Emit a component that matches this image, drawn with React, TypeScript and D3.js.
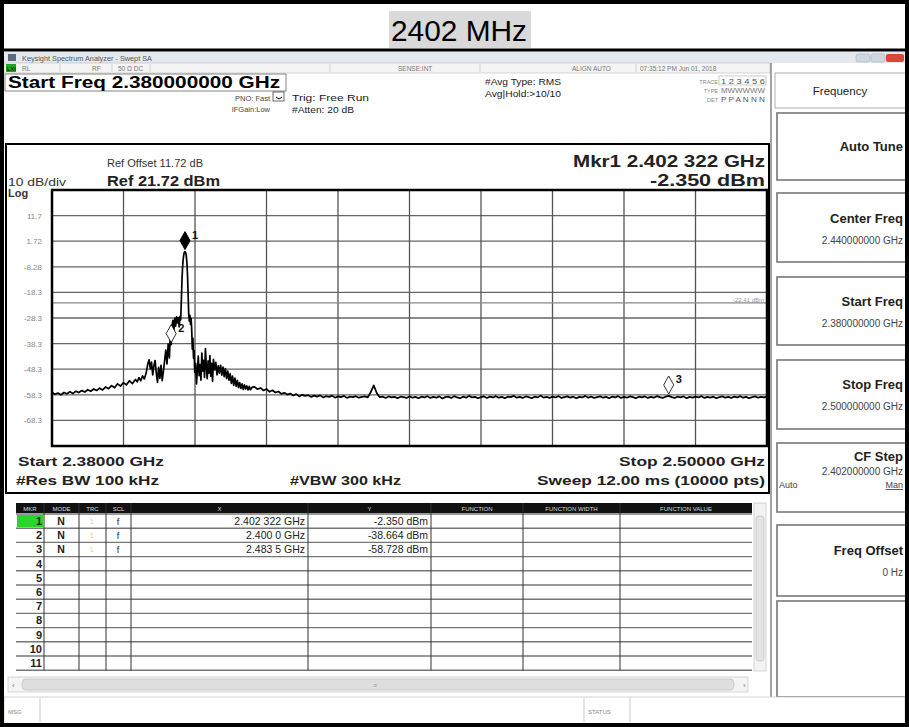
import * as d3 from 'd3';

// ── Data ──────────────────────────────────────────────────────────────────────
const F_START = 2380;
const F_STOP = 2500;
const REF_DBM = 21.72;
const DB_DIV = 10;

const Y_TICK_VALUES = [11.72, 1.72, -8.28, -18.28, -28.28, -38.28, -48.28, -58.28, -68.28];
const Y_TICK_LABELS = ['11.7', '1.72', '-8.28', '-18.3', '-28.3', '-38.3', '-48.3', '-58.3', '-68.3'];

const DISPLAY_LINE_DBM = -22.41;

// trace, left shoulder: 2380 → 2394 MHz every 0.5 MHz
const LEFT_START = 2380;
const LEFT_STEP = 0.5;
const LEFT_DBM = [
  -57.3, -58.1, -57.6, -58.3, -57.4, -57.9, -57.1, -57.8, -56.9, -57.4,
  -56.6, -57.2, -56.3, -56.9, -56.0, -56.6, -55.7, -56.4, -55.2, -55.9,
  -54.7, -55.5, -54.0, -54.9, -53.5, -54.4, -52.8, -53.9, -52.3,
];

// trace, signal region [MHz, dBm]
const SIGNAL: [number, number][] = [
  [2394.3, -53.2], [2394.6, -51.6], [2394.9, -52.8], [2395.2, -50.9], [2395.5, -52.1], [2395.8, -49.8],
  [2396.1, -46.0], [2396.3, -44.6], [2396.5, -48.2], [2396.7, -45.5], [2396.9, -50.5], [2397.1, -47.0],
  [2397.3, -44.9], [2397.5, -49.6], [2397.7, -53.4], [2397.9, -47.6], [2398.1, -51.9], [2398.3, -46.8],
  [2398.5, -52.8], [2398.7, -49.0], [2398.9, -45.0], [2399.1, -40.8], [2399.3, -46.2], [2399.5, -38.5],
  [2399.7, -43.9], [2399.85, -35.2], [2400.0, -38.7], [2400.15, -31.0], [2400.3, -29.2], [2400.45, -33.6],
  [2400.6, -28.4], [2400.75, -31.5], [2400.9, -27.8], [2401.05, -30.2], [2401.2, -28.1], [2401.35, -31.8],
  [2401.5, -27.5], [2401.6, -29.0],
  [2401.7, -22.0], [2401.8, -14.5], [2401.9, -9.0], [2402.0, -5.8], [2402.1, -3.8], [2402.2, -2.7],
  [2402.32, -2.35], [2402.45, -2.8], [2402.55, -4.2], [2402.65, -7.0], [2402.75, -12.0], [2402.85, -19.5],
  [2402.95, -27.0],
  [2403.05, -29.5], [2403.15, -27.2], [2403.25, -30.8], [2403.35, -28.5], [2403.45, -33.0], [2403.55, -40.5],
  [2403.65, -36.2], [2403.75, -44.0], [2403.85, -41.0], [2403.95, -49.5], [2404.1, -46.0], [2404.25, -54.0],
  [2404.4, -48.5],
  [2404.55, -43.2], [2404.7, -50.8], [2404.85, -46.5], [2405.0, -52.6], [2405.15, -42.0], [2405.3, -49.0],
  [2405.45, -44.8], [2405.6, -51.5], [2405.75, -40.2], [2405.9, -47.3], [2406.05, -52.0], [2406.2, -45.0],
  [2406.35, -49.8], [2406.5, -43.0], [2406.65, -51.0], [2406.8, -46.0], [2406.95, -53.0], [2407.1, -44.4],
  [2407.3, -48.6], [2407.5, -45.6], [2407.7, -50.5], [2407.9, -47.0], [2408.1, -49.8], [2408.3, -46.8],
  [2408.5, -50.6], [2408.7, -47.5], [2408.9, -51.2], [2409.1, -48.0], [2409.3, -52.0], [2409.5, -49.0],
  [2409.7, -52.6], [2409.9, -50.0], [2410.1, -53.8], [2410.3, -51.0], [2410.5, -54.6], [2410.7, -51.8],
  [2410.9, -55.0], [2411.1, -52.6], [2411.3, -55.5], [2411.5, -53.5], [2411.7, -55.8], [2411.9, -54.0],
  [2412.1, -56.2], [2412.3, -54.4], [2412.5, -56.0], [2412.7, -54.8], [2412.9, -56.4], [2413.1, -55.0],
  [2413.3, -56.3], [2413.6, -55.3],
];

// trace, noise floor: 2414 → 2500 MHz every 0.5 MHz
const FLOOR_START = 2414;
const FLOOR_STEP = 0.5;
const FLOOR_DBM = [
  -55.2, -56.1, -55.6, -56.6, -56.0, -57.1, -56.5, -57.4, -57.0, -57.9,
  -57.5, -58.2, -57.8, -58.6, -58.0, -58.9, -58.3, -58.7, -58.4, -59.1,
  -58.6, -59.0, -58.5, -59.3, -58.8, -59.1, -58.6, -59.4, -58.9, -59.2,
  -58.7, -59.5, -59.0, -59.2, -58.8, -59.4, -59.1, -58.9, -59.3, -57.2,
  -54.6, -57.6, -59.2, -59.0, -59.5, -58.9, -59.3, -59.1, -59.6, -59.0,
  -59.2, -59.5, -58.9, -59.4, -59.1, -59.6, -59.0, -59.3, -58.8, -59.5,
  -59.1, -59.4, -58.9, -59.7, -59.2, -59.0, -59.5, -58.8, -59.3, -59.6,
  -59.0, -59.4, -58.7, -59.3, -59.1, -59.6, -59.2, -58.9, -59.5, -59.0,
  -59.3, -58.8, -59.4, -59.1, -59.6, -59.0, -59.2, -58.7, -59.4, -59.1,
  -59.5, -58.9, -59.2, -59.6, -59.0, -59.3, -58.6, -59.4, -59.1, -59.5,
  -59.0, -59.3, -58.8, -59.5, -59.2, -58.9, -59.4, -59.0, -59.6, -59.1,
  -59.3, -58.7, -59.4, -59.0, -59.5, -59.2, -58.9, -59.4, -59.1, -59.6,
  -59.0, -59.3, -58.8, -59.5, -59.1, -59.4, -58.9, -59.2, -59.6, -59.0,
  -59.3, -58.9, -59.5, -59.1, -59.4, -58.8, -59.2, -59.5, -59.0, -58.7,
  -59.2, -59.5, -59.0, -59.3, -58.9, -59.6, -59.1, -59.4, -59.0, -59.3,
  -58.8, -59.5, -59.1, -59.4, -59.0, -59.6, -59.2, -58.9, -59.4, -59.1,
  -59.5, -59.0, -59.3, -58.8, -59.4, -59.1, -59.6, -59.2, -58.9, -59.4,
  -59.1, -59.3, -59.0,
];

// markers
const MKR_NUM = ['1', '2', '3'];
const MKR_MHZ = [2402.322, 2400.0, 2483.5];
const MKR_DBM = [-2.35, -38.664, -58.728];
const MKR_X_TXT = ['2.402 322 GHz', '2.400 0 GHz', '2.483 5 GHz'];
const MKR_Y_TXT = ['-2.350 dBm', '-38.664 dBm', '-58.728 dBm'];

const TABLE_HEADERS = ['MKR', 'MODE', 'TRC', 'SCL', 'X', 'Y', 'FUNCTION', 'FUNCTION WIDTH', 'FUNCTION VALUE'];
const TABLE_COLS = [16, 44, 79, 106, 131, 308, 431, 523, 620, 752];
const TABLE_ROWS = 11;

const SOFTKEYS = [
  { title: 'Auto Tune', value: '', top: 113, bottom: 180, ty: 151, vdy: 0 },
  { title: 'Center Freq', value: '2.440000000 GHz', top: 193, bottom: 262, ty: 223, vdy: 21 },
  { title: 'Start Freq', value: '2.380000000 GHz', top: 277, bottom: 345, ty: 306, vdy: 21 },
  { title: 'Stop Freq', value: '2.500000000 GHz', top: 360, bottom: 429, ty: 389, vdy: 21 },
  { title: 'CF Step', value: '2.402000000 GHz', top: 443, bottom: 512, ty: 461, vdy: 14 },
  { title: 'Freq Offset', value: '0 Hz', top: 525, bottom: 596, ty: 555, vdy: 21 },
  { title: '', value: '', top: 601, bottom: 697, ty: 0, vdy: 0 },
];

// ── Layout ────────────────────────────────────────────────────────────────────
const W = 909;
const H = 727;
const PL = 52, PR = 767, PT = 190, PB = 446;
const FONT = '"Liberation Sans", Arial, sans-serif';

const x = d3.scaleLinear().domain([F_START, F_STOP]).range([PL, PR]);
const y = d3.scaleLinear().domain([REF_DBM - DB_DIV * 10, REF_DBM]).range([PB, PT]);

type TP = {
  x: number; y: number; s?: number; w?: number | string; a?: 'start' | 'middle' | 'end';
  f?: string; len?: number; children: any; deco?: string;
};
function T({ x: tx, y: ty, s = 10, w = 400, a = 'start', f = '#000', len, children, deco }: TP) {
  return (
    <text
      x={tx} y={ty} fontSize={s} fontWeight={w} textAnchor={a} fill={f}
      fontFamily={FONT}
      textLength={len} lengthAdjust={len ? 'spacingAndGlyphs' : undefined}
      textDecoration={deco}
    >
      {children}
    </text>
  );
}

function diamond(cx: number, cy: number, hw = 5, hh = 9) {
  // bottom tip sits on the trace point
  return `M${cx},${cy} L${cx + hw},${cy - hh} L${cx},${cy - 2 * hh} L${cx - hw},${cy - hh} Z`;
}

export default function App() {
  const pts: [number, number][] = [
    ...LEFT_DBM.map((d, i) => [LEFT_START + i * LEFT_STEP, d] as [number, number]),
    ...SIGNAL,
    ...FLOOR_DBM.map((d, i) => [FLOOR_START + i * FLOOR_STEP, d] as [number, number]),
  ];
  const line = d3.line<[number, number]>().x(d => x(d[0])).y(d => y(d[1]));
  const vGrid = d3.range(1, 10).map(i => F_START + (i * (F_STOP - F_START)) / 10);
  const rowH = 14.2;
  const rowTop = 514;

  return (
    <svg width={W} height={H} viewBox={`0 0 ${W} ${H}`}
      style={{ position: 'absolute', left: 0, top: 0, display: 'block', background: '#fff' }}>
      {/* title */}
      <rect x={389} y={11} width={142} height={37} fill="#d9d9d9" />
      <T x={459} y={41} s={29} a="middle" len={136}>2402 MHz</T>
      <line x1={0} x2={W} y1={50} y2={50} stroke="#000" strokeWidth={3} />

      {/* window title bar */}
      <rect x={4} y={52} width={W - 8} height={11} fill="#e4e9ef" />
      <rect x={8} y={54} width={8} height={7} fill="#5a6b7e" />
      <T x={22} y={61} s={7} f="#555" len={130}>Keysight Spectrum Analyzer - Swept SA</T>
      <rect x={856} y={54} width={14} height={8} rx={2} fill="#cfd8e2" stroke="#9aa" strokeWidth={0.5} />
      <rect x={871} y={54} width={14} height={8} rx={2} fill="#cfd8e2" stroke="#9aa" strokeWidth={0.5} />
      <rect x={886} y={54} width={18} height={8} rx={2} fill="#d9473a" />

      {/* status row */}
      <rect x={4} y={63} width={766} height={10} fill="#f4f4f4" stroke="#bbb" strokeWidth={0.6} />
      <rect x={6} y={64} width={10} height={8} fill="#1fa81f" />
      <T x={7} y={71} s={6} f="#000">LXI</T>
      {[[22, 'RL'], [92, 'RF'], [118, '50 Ω   DC'], [398, 'SENSE:INT'], [572, 'ALIGN AUTO'], [640, '07:35:12 PM Jun 01, 2018']].map(([tx, s]) => (
        <T key={s as string} x={tx as number} y={71} s={6.5} f="#777">{s}</T>
      ))}
      {[60, 112, 150, 330, 480, 636].map(lx => (
        <line key={lx} x1={lx} x2={lx} y1={64} y2={72} stroke="#ccc" strokeWidth={0.8} />
      ))}

      {/* settings block */}
      <rect x={5} y={74} width={281} height={17} fill="#fff" stroke="#666" strokeWidth={0.8} />
      <T x={8} y={88} s={16} w={700} len={272}>Start Freq 2.380000000 GHz</T>
      <T x={270} y={101} s={7.5} a="end" f="#444">PNO: Fast</T>
      <T x={270} y={112} s={7.5} a="end" f="#444">IFGain:Low</T>
      <rect x={273} y={92} width={11} height={9} fill="#fff" stroke="#444" strokeWidth={0.8} />
      <path d="M276,97 L279,99 L282,97" fill="none" stroke="#000" strokeWidth={1} />
      <T x={292} y={101} s={9.5} len={77} f="#222">Trig: Free Run</T>
      <T x={292} y={113} s={8.5} len={62} f="#222">#Atten: 20 dB</T>
      <T x={485} y={85} s={9.5} len={76} f="#222">#Avg Type: RMS</T>
      <T x={485} y={97} s={9.5} len={76} f="#222">Avg|Hold:&gt;10/10</T>
      <T x={718} y={84} s={5.5} a="end" f="#888">TRACE</T>
      <T x={718} y={93} s={5.5} a="end" f="#888">TYPE</T>
      <T x={718} y={102} s={5.5} a="end" f="#888">DET</T>
      <rect x={719} y={76} width={47} height={9} fill="#fff" stroke="#aaa" strokeWidth={0.6} />
      <T x={721} y={84} s={8} len={44} f="#555">1 2 3 4 5 6</T>
      <T x={721} y={93} s={7} len={44} f="#777">MWWWWW</T>
      <T x={721} y={102} s={7.5} len={44} f="#555">P P A N N N</T>

      {/* softkeys */}
      <line x1={771} x2={771} y1={63} y2={700} stroke="#666" strokeWidth={1.2} />
      <rect x={775} y={73} width={131} height={35} fill="#fff" stroke="#999" strokeWidth={0.8} />
      <T x={840} y={95} s={11.5} w={500} a="middle" f="#222">Frequency</T>
      {SOFTKEYS.map(k => (
        <g key={k.top}>
          <rect x={777} y={k.top} width={132} height={k.bottom - k.top} fill="#fff"
            stroke="#777" strokeWidth={1.6} />
          {k.title && <T x={903} y={k.ty} s={13} w={700} a="end" f="#222">{k.title}</T>}
          {k.value && <T x={903} y={k.ty + k.vdy} s={10} a="end" f="#444">{k.value}</T>}
        </g>
      ))}
      <T x={779} y={488} s={9} f="#444">Auto</T>
      <T x={903} y={488} s={9} a="end" f="#444" deco="underline">Man</T>

      {/* graph panel */}
      <rect x={6} y={144} width={763} height={349} fill="#fff" stroke="#000" strokeWidth={2} />
      <T x={107} y={167} s={10} len={96} f="#333">Ref Offset 11.72 dB</T>
      <T x={107} y={186} s={14} w={700} len={113} f="#222">Ref 21.72 dBm</T>
      <T x={8} y={186} s={10} len={58} f="#333">10 dB/div</T>
      <T x={8} y={197} s={11} w={700} f="#333">Log</T>
      <T x={765} y={167} s={16} w={700} a="end" len={192} f="#222">Mkr1 2.402 322 GHz</T>
      <T x={765} y={186} s={16} w={700} a="end" len={115} f="#222">-2.350 dBm</T>

      {/* plot area */}
      <g>
        {Y_TICK_VALUES.map(v => (
          <line key={v} x1={PL} x2={PR} y1={y(v)} y2={y(v)} stroke="#666" strokeWidth={1.3} />
        ))}
        {vGrid.map(f => (
          <line key={f} x1={x(f)} x2={x(f)} y1={PT} y2={PB} stroke="#555" strokeWidth={1.3} />
        ))}
        {Y_TICK_VALUES.map((v, i) => (
          <T key={v} x={42} y={y(v) + 3} s={8} a="end" f="#888">{Y_TICK_LABELS[i]}</T>
        ))}
        {/* display line */}
        <line x1={PL} x2={PR} y1={y(DISPLAY_LINE_DBM)} y2={y(DISPLAY_LINE_DBM)} stroke="#888" strokeWidth={1.2} />
        <T x={764} y={y(DISPLAY_LINE_DBM) - 1} s={6} a="end" f="#999">-22.41 dBm</T>

        <path d={line(pts) ?? ''} fill="none" stroke="#000" strokeWidth={1.7} strokeLinejoin="round" />

        {MKR_MHZ.map((f, i) => {
          const cx = x(f);
          const cy = y(MKR_DBM[i]) - 2;
          return (
            <g key={i}>
              <path d={diamond(cx, cy, 5, 9)} fill={i === 0 ? '#000' : '#fff'} stroke="#000"
                strokeWidth={i === 0 ? 1 : 0.8} />
              <T x={cx + 7} y={cy - 11} s={11} w={700} f="#111">{MKR_NUM[i]}</T>
            </g>
          );
        })}
        <rect x={PL} y={PT} width={PR - PL} height={PB - PT} fill="none" stroke="#000" strokeWidth={2.5} />
      </g>

      <T x={18} y={466} s={13} w={700} len={146} f="#222">Start 2.38000 GHz</T>
      <T x={16} y={485} s={13} w={700} len={143} f="#222">#Res BW 100 kHz</T>
      <T x={290} y={485} s={13} w={700} len={111} f="#222">#VBW 300 kHz</T>
      <T x={765} y={466} s={13} w={700} a="end" len={146} f="#222">Stop 2.50000 GHz</T>
      <T x={765} y={485} s={13} w={700} a="end" len={228} f="#222">Sweep  12.00 ms (10000 pts)</T>

      {/* marker table */}
      <rect x={TABLE_COLS[0]} y={503} width={TABLE_COLS[9] - TABLE_COLS[0]} height={10} fill="#111" />
      {TABLE_HEADERS.map((h, i) => (
        <T key={h} x={(TABLE_COLS[i] + TABLE_COLS[i + 1]) / 2} y={511} s={6} a="middle" f="#ddd">{h}</T>
      ))}
      {d3.range(TABLE_ROWS + 1).map(r => (
        <line key={r} x1={TABLE_COLS[0]} x2={TABLE_COLS[9]} y1={rowTop + r * rowH} y2={rowTop + r * rowH}
          stroke="#777" strokeWidth={1.4} />
      ))}
      {TABLE_COLS.slice(1, 9).map(cx => (
        <line key={cx} x1={cx} x2={cx} y1={503} y2={rowTop + TABLE_ROWS * rowH} stroke="#333" strokeWidth={1} />
      ))}
      <rect x={TABLE_COLS[0] + 1} y={rowTop + 1} width={TABLE_COLS[1] - TABLE_COLS[0] - 2} height={rowH - 2} fill="#2bd42b" />
      {d3.range(TABLE_ROWS).map(r => (
        <T key={r} x={42} y={rowTop + r * rowH + 11} s={11} w={700} a="end" f="#222">{r + 1}</T>
      ))}
      {MKR_X_TXT.map((xt, i) => (
        <g key={i}>
          <T x={61} y={rowTop + i * rowH + 11} s={10.5} w={700} a="middle" f="#222">N</T>
          <T x={92} y={rowTop + i * rowH + 10} s={7} a="middle" f="#e6e600">1</T>
          <T x={118} y={rowTop + i * rowH + 11} s={9} a="middle" f="#222">f</T>
          <T x={305} y={rowTop + i * rowH + 11} s={10.5} a="end" f="#222">{xt}</T>
          <T x={428} y={rowTop + i * rowH + 11} s={10.5} a="end" f="#222">{MKR_Y_TXT[i]}</T>
        </g>
      ))}
      {/* scrollbars */}
      <rect x={754} y={503} width={12} height={168} fill="#f2f2f2" stroke="#ccc" strokeWidth={0.8} />
      <rect x={756} y={516} width={8} height={145} rx={3} fill="#e4e4e4" stroke="#bbb" strokeWidth={0.6} />
      <rect x={8} y={677} width={740} height={15} fill="#f4f4f4" stroke="#ccc" strokeWidth={0.8} />
      <rect x={22} y={679} width={712} height={11} rx={4} fill="#dedede" stroke="#bbb" strokeWidth={0.6} />
      <T x={12} y={688} s={8} f="#777">‹</T>
      <T x={743} y={688} s={8} f="#777">›</T>
      <T x={375} y={688} s={7} a="middle" f="#999">≡</T>

      {/* message bar */}
      <rect x={4} y={697} width={W - 8} height={28} fill="#fff" stroke="#ccc" strokeWidth={0.8} />
      <line x1={40} x2={40} y1={697} y2={725} stroke="#ccc" />
      <line x1={584} x2={584} y1={697} y2={725} stroke="#ccc" />
      <line x1={630} x2={630} y1={697} y2={725} stroke="#ccc" />
      <T x={8} y={714} s={6} f="#888">MSG</T>
      <T x={588} y={714} s={6} f="#888">STATUS</T>

      {/* outer frame */}
      <rect x={2} y={2} width={W - 4} height={H - 4} fill="none" stroke="#000" strokeWidth={4} />
    </svg>
  );
}
